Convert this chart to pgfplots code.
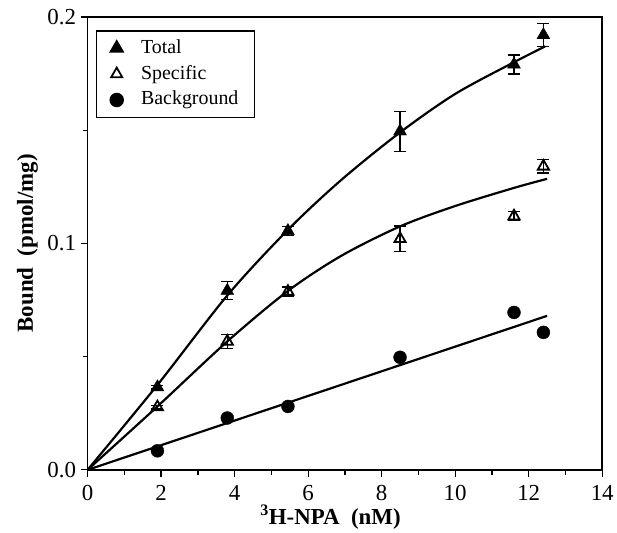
\documentclass[border=0pt]{standalone}
\usepackage{fontspec}
\setmainfont{Liberation Serif}
\usepackage{pgfplots}
\pgfplotsset{compat=1.18}

% measured points: x (nM), bound (pmol/mg), sem
\pgfplotstableread{
x     y       ey
1.9   0.0365  0.0008
3.8   0.0791  0.0040
5.45  0.1055  0.0020
8.5   0.1495  0.0088
11.6  0.1790  0.0042
12.4  0.1920  0.0050
}\total
\pgfplotstableread{
x     y       ey
1.9   0.0277  0.0008
3.8   0.0567  0.0030
5.45  0.0787  0.0020
8.5   0.1020  0.0056
11.6  0.1120  0.0020
12.4  0.1340  0.0030
}\specific
\pgfplotstableread{
x     y
1.9   0.0084
3.8   0.0229
5.45  0.0280
8.5   0.0497
11.6  0.0695
12.4  0.0607
}\background

\newcommand{\tickfont}{\fontsize{23}{25}\selectfont}
\newcommand{\labfont}{\fontsize{23}{25}\selectfont\bfseries}
\newcommand{\legfont}{\fontsize{20}{22}\selectfont}

\begin{document}
\begin{tikzpicture}
\begin{axis}[
    name=ax,
    width=517pt, height=455pt, scale only axis,
    xmin=0, xmax=14, ymin=0, ymax=0.2,
    xtick={0,2,...,14}, minor x tick num=1,
    ytick={0,0.1,0.2}, minor y tick num=1,
    xtick pos=bottom, ytick pos=left,
    tick align=outside,
    major tick length=7pt, minor tick length=5pt,
    axis line style={line width=1.6pt},
    every tick/.style={black, line width=1.3pt},
    tick label style={font=\tickfont},
    x tick label style={yshift=-5pt},
    y tick label style={xshift=-1pt},
    /pgf/number format/assume math mode=true,
    y tick label style={/pgf/number format/.cd, fixed, fixed zerofill, precision=1},
    xlabel={\textsuperscript{3}H-NPA\ \ (nM)},
    ylabel={Bound\ \ (pmol/mg)},
    label style={font=\labfont},
    xlabel style={at={(axis description cs:0.472,0)}, yshift=-55pt, anchor=base},
    ylabel style={at={(axis description cs:-0.117,0.5)}, anchor=center},
    legend style={at={(0.0155,0.971)}, anchor=north west, draw=black,
      line width=1.5pt, font=\legfont, row sep=4pt, column sep=16pt,
      inner xsep=14pt, inner ysep=6.5pt,
      nodes={inner sep=2pt, text height=14pt, text depth=4pt}},
    legend cell align=left,
    error bars/error bar style={line width=1.4pt},
    error bars/error mark options={rotate=90, mark size=6pt, line width=1.4pt},
  ]
  % fitted curves
  \addplot[black, line width=2.2pt, smooth, forget plot] coordinates {
    (0,0) (1.9,0.0375) (3.8,0.077) (5.45,0.106) (6.9,0.128)
    (8.5,0.149) (10,0.166) (11.6,0.180) (12.45,0.187)};
  \addplot[black, line width=2.2pt, smooth, forget plot] coordinates {
    (0,0) (1.9,0.028) (3.8,0.0567) (5.45,0.079) (6.9,0.0945)
    (8.5,0.1075) (10,0.1165) (11.6,0.1245) (12.5,0.1285)};
  \addplot[black, line width=2.2pt, forget plot] coordinates {
    (0,0) (12.5,0.068)};
  % data
  \addplot[black, only marks, mark=triangle*, mark size=7.5pt,
    error bars/.cd, y dir=both, y explicit]
    table[x=x, y=y, y error=ey] {\total};
  \addlegendentry{Total}
  \addplot[black, only marks, mark=triangle, mark size=6.5pt,
    mark options={line width=1.8pt, fill=white},
    error bars/.cd, y dir=both, y explicit]
    table[x=x, y=y, y error=ey] {\specific};
  \addlegendentry{Specific}
  \addplot[black, only marks, mark=*, mark size=6.5pt]
    table[x=x, y=y] {\background};
  \addlegendentry{Background}
\end{axis}
% keep the margins of the original figure
\path (ax.south west) ++(-88pt,-63pt) coordinate (bbA);
\path (ax.north east) ++(12pt,17pt) coordinate (bbB);
\path (bbA) rectangle (bbB);
\end{tikzpicture}
\end{document}
